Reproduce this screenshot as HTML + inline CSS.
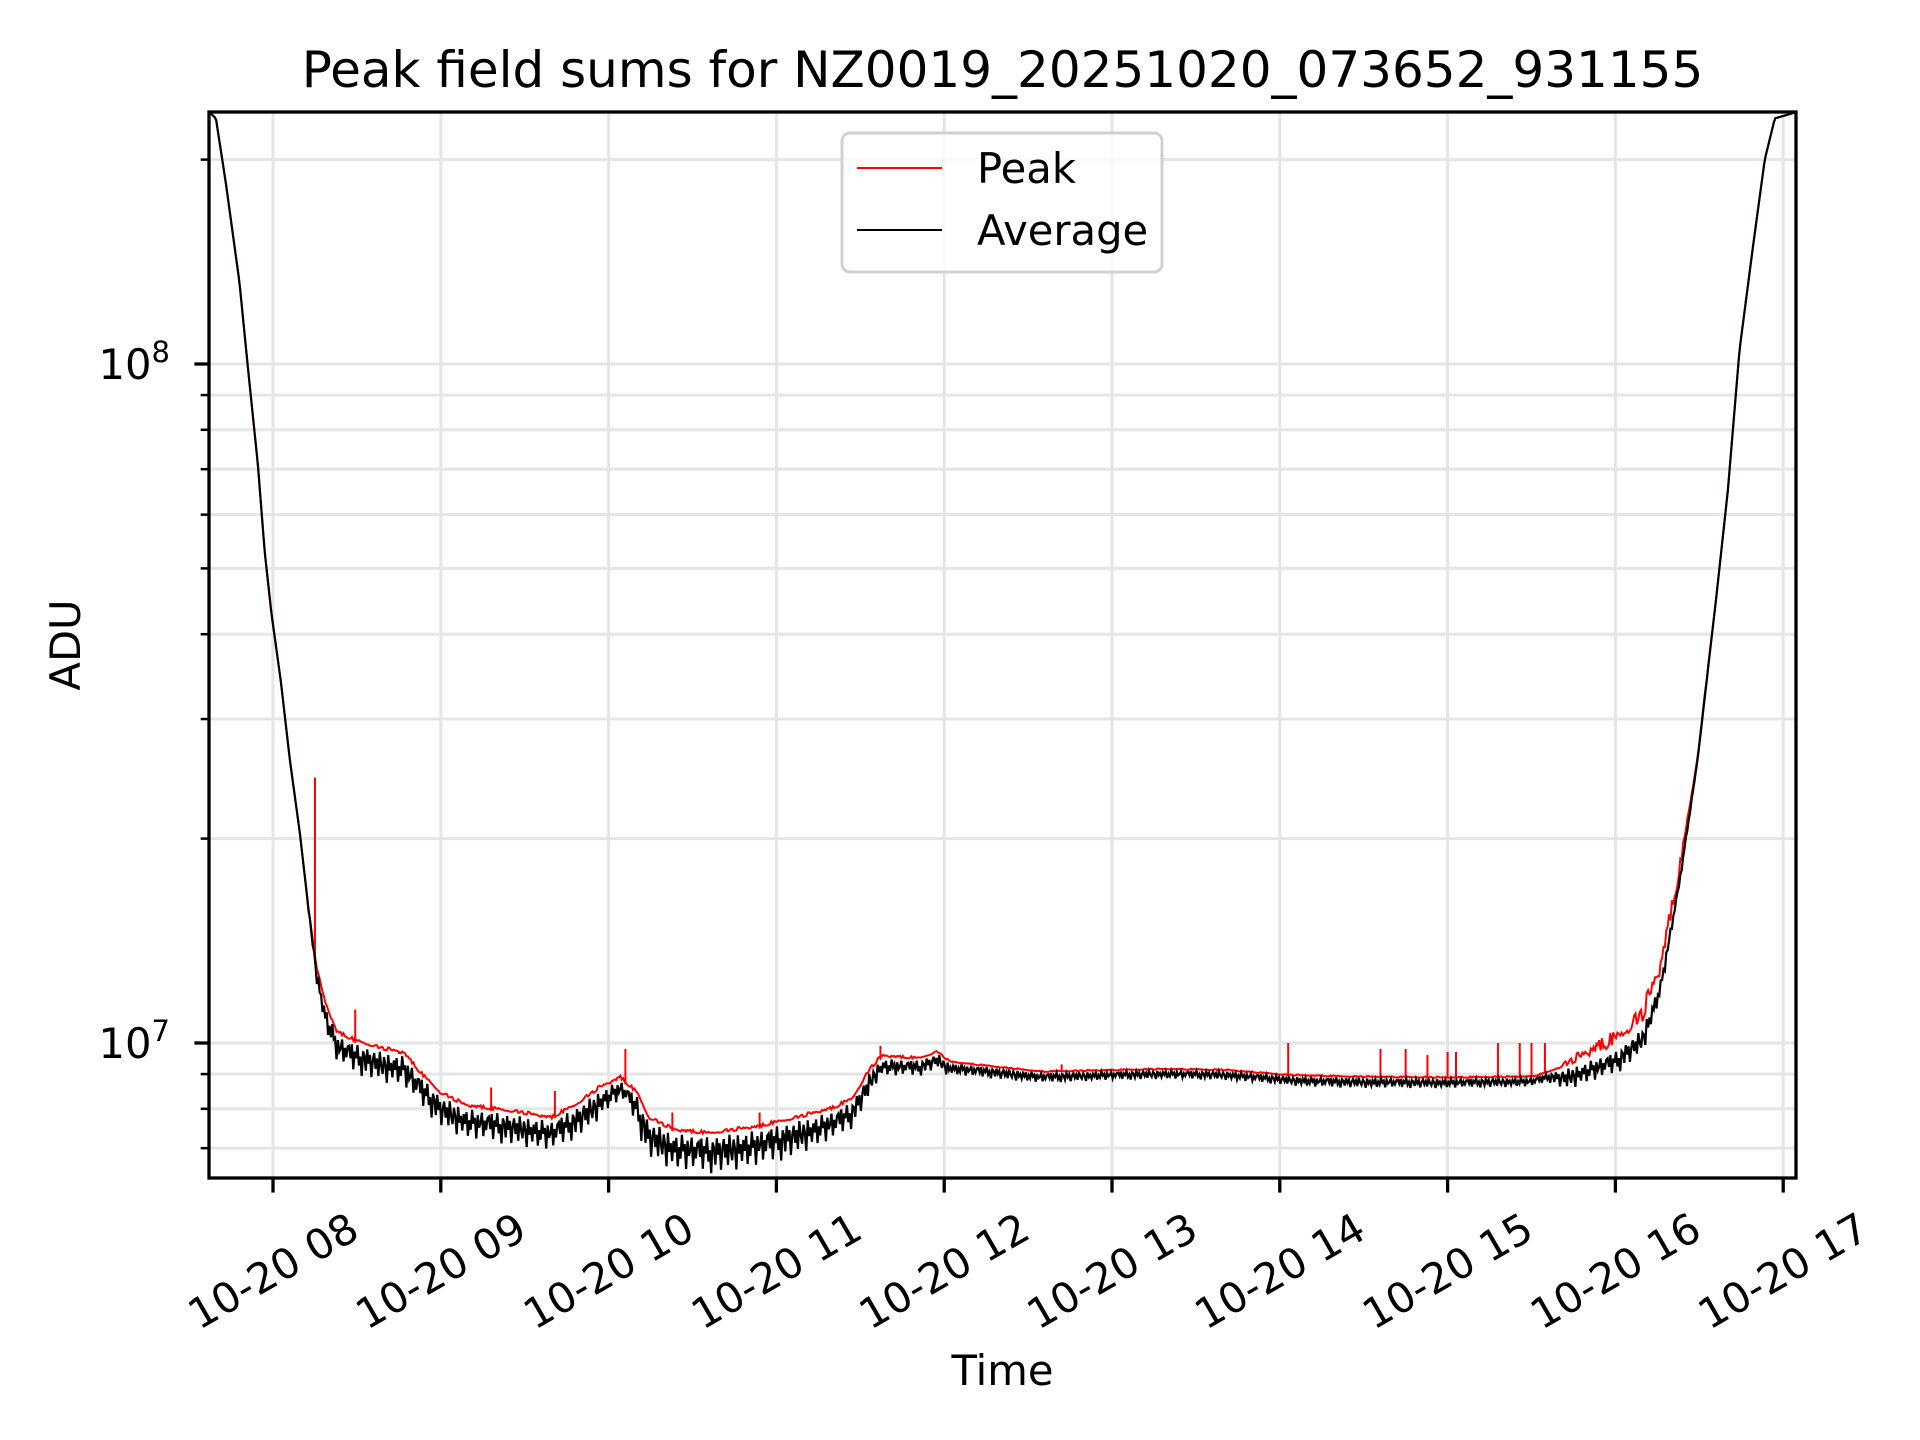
<!DOCTYPE html>
<html><head><meta charset="utf-8"><style>
html,body{margin:0;padding:0;background:#fff}
svg{display:block;font-family:"DejaVu Sans","Liberation Sans",sans-serif}
</style></head><body>
<svg id="chart" width="1920" height="1440" viewBox="0 0 1920 1440">
<text x="1002.5" y="87" font-size="50" text-anchor="middle">Peak field sums for NZ0019_20251020_073652_931155</text>
<text x="1002.5" y="1385" font-size="41.7" text-anchor="middle">Time</text>
<text transform="translate(80,645) rotate(-90)" font-size="41.7" text-anchor="middle">ADU</text>
<g id="grid"></g><g id="series"></g><g id="axes"></g>
<g id="legend">
<rect x="842" y="133" width="320" height="139" rx="8" fill="#fff" fill-opacity="0.8" stroke="#d0d0d0" stroke-width="3"/>
<line x1="857" y1="168" x2="942" y2="168" stroke="#ff0000" stroke-width="2"/>
<text x="977" y="183" font-size="41.7">Peak</text>
<line x1="857" y1="230" x2="942" y2="230" stroke="#000" stroke-width="2"/>
<text x="977" y="245" font-size="41.7">Average</text>
</g>
</svg>
<script>
// trend knots: hours and values (ADU)
const trendHours = [7.62,7.66,7.72,7.80,7.85,7.91,7.95,7.99,8.05,8.10,8.16,8.21,8.26,8.31,8.38,8.49,8.64,8.78,8.89,9.0,9.15,9.44,9.66,9.8,9.95,10.07,10.17,10.24,10.39,10.6,10.9,11.12,11.34,11.45,11.56,11.63,11.85,11.96,12.03,12.58,13.31,13.68,14.04,14.41,14.99,15.5,15.72,16.01,16.16,16.27,16.38,16.49,16.6,16.67,16.74,16.82,16.89,16.95,17.08];
const trendValues = [2.35e8,2.3e8,1.84e8,1.32e8,9.9e7,7.1e7,5.3e7,4.3e7,3.36e7,2.62e7,2.04e7,1.59e7,1.29e7,1.14e7,1.03e7,1.0e7,9.75e6,9.6e6,8.9e6,8.37e6,8.03e6,7.86e6,7.7e6,8.03e6,8.54e6,8.83e6,8.37e6,7.7e6,7.39e6,7.3e6,7.48e6,7.7e6,7.96e6,8.2e6,9.1e6,9.5e6,9.44e6,9.67e6,9.36e6,9.05e6,9.13e6,9.1e6,8.95e6,8.9e6,8.87e6,8.9e6,9.2e6,9.75e6,1.05e7,1.24e7,1.73e7,2.62e7,4.5e7,6.5e7,1.05e8,1.49e8,2.0e8,2.3e8,2.35e8];
// noise amplitude envelope of the Average dips
const dipHours = [7.6,8.2,8.3,8.5,9.0,9.9,10.1,10.2,11.0,11.55,11.6,12.0,12.05,13.0,14.0,14.2,15.6,15.7,16.2,16.35,16.5,17.1];
const dipAmps = [0,0,0.08,0.1,0.1,0.1,0.06,0.12,0.12,0.08,0.06,0.05,0.04,0.03,0.03,0.035,0.03,0.07,0.08,0.03,0,0];
// peak excess over trend
const peakHours = [7.6,8.25,8.3,11.6,12.1,15.6,15.9,16.3,16.45,16.6,17.1];
const peakExcess = [0,0,0.012,0.012,0.004,0.004,0.05,0.07,0.02,0,0];
// hand-read dip texture (fraction of envelope)
const dipTexture = [0.2,0.6,0.1,0.9,0.3,0.5,0.05,0.7,0.4,1.0,0.2,0.35,0.8,0.1,0.55,0.25,0.95,0.4,0.15,0.65,0.3,0.85,0.05,0.5,0.75,0.2,0.45,1.0,0.1,0.6,0.35,0.8,0.25,0.55,0.15,0.9,0.4,0.7,0.05,0.5,0.3,0.95,0.2,0.6,0.45,0.1,0.85,0.35,0.65,0.25];
// peak spikes
const spikeHours = [8.25,8.49,8.75,9.3,9.68,10.1,10.38,10.9,11.62,12.7,14.05,14.6,14.75,14.88,15.0,15.05,15.3,15.43,15.5,15.58];
const spikeValues = [2.46e7,1.12e7,9.7e6,8.6e6,8.5e6,9.8e6,7.9e6,7.9e6,9.9e6,9.3e6,1.0e7,9.8e6,9.8e6,9.6e6,9.7e6,9.7e6,1.0e7,1.0e7,1.0e7,1.0e7];
const xTickHours = [8,9,10,11,12,13,14,15,16,17];
const xTickLabels = ["10-20 08","10-20 09","10-20 10","10-20 11","10-20 12","10-20 13","10-20 14","10-20 15","10-20 16","10-20 17"];
const yMajor = [1e7,1e8];
const yMajorLabels = ["7","8"];
const yMinor = [7e6,8e6,9e6,2e7,3e7,4e7,5e7,6e7,7e7,8e7,9e7,2e8];

const L=209,R=1796,T=112,B=1178;
const X=h=>273+(h-8)*167.8;
const Y=v=>1043-(Math.log10(v)-7)*679;
const NS="http://www.w3.org/2000/svg";
function mk(tag,attrs,parent){const e=document.createElementNS(NS,tag);for(const k in attrs)e.setAttribute(k,attrs[k]);parent.appendChild(e);return e;}
function interp(hs,vs,h,log){if(h<=hs[0])return vs[0];for(let i=1;i<hs.length;i++){if(h<=hs[i]){const f=(h-hs[i-1])/(hs[i]-hs[i-1]);if(log)return Math.pow(10,Math.log10(vs[i-1])+f*(Math.log10(vs[i])-Math.log10(vs[i-1])));return vs[i-1]+f*(vs[i]-vs[i-1]);}}return vs[vs.length-1];}

const grid=document.getElementById('grid');
xTickHours.forEach(h=>{const l=mk('line',{x1:X(h),x2:X(h),y1:T,y2:B,stroke:'#e5e5e5','stroke-width':3},grid);

});
yMajor.concat(yMinor).forEach(v=>{const l=mk('line',{x1:L,x2:R,y1:Y(v),y2:Y(v),stroke:'#e5e5e5','stroke-width':3},grid);

});

const series=document.getElementById('series');
const clip=mk('clipPath',{id:'clp'},mk('defs',{},series));
mk('rect',{x:L,y:T,width:R-L,height:B-T},clip);
const hs=[];for(let h=7.62;h<=17.077;h+=1/120)hs.push(h);
let pk='',av='';
const n=dipTexture.length;
hs.forEach((h,i)=>{const t=interp(trendHours,trendValues,h,true);
 const d=interp(dipHours,dipAmps,h,false)*dipTexture[i%n];
 const p=interp(peakHours,peakExcess,h,false)*(0.3+dipTexture[(i*7+13)%n]);
 pk+=(i?'L':'M')+X(h).toFixed(1)+' '+Y(t*(1+p)).toFixed(1);
 av+=(i?'L':'M')+X(h).toFixed(1)+' '+Y(t*(1-d)).toFixed(1);});
const peakPath=mk('path',{d:pk,fill:'none',stroke:'#ff0000','stroke-width':2,'clip-path':'url(#clp)'},series);


spikeHours.forEach((h,i)=>{const t=interp(trendHours,trendValues,h,true);
 const s=mk('line',{x1:X(h),x2:X(h),y1:Y(t),y2:Y(spikeValues[i]),stroke:'#ff0000','stroke-width':2},series);
 
 });
const avgPath=mk('path',{d:av,fill:'none',stroke:'#000','stroke-width':2.2,'clip-path':'url(#clp)'},series);



const axes=document.getElementById('axes');
const frame=mk('rect',{x:L,y:T,width:R-L,height:B-T,fill:'none',stroke:'#000','stroke-width':3.3},axes);


xTickHours.forEach((h,i)=>{const x=X(h);
 const t=mk('line',{x1:x,x2:x,y1:B,y2:B+14.6,stroke:'#000','stroke-width':3.3},axes);
 
 
 const tx=mk('text',{x:0,y:0,'font-size':41.7,'text-anchor':'middle','dominant-baseline':'central',transform:`translate(${x},1271) rotate(-30)`},axes);
 tx.textContent=xTickLabels[i];
 
 });
yMajor.forEach((v,i)=>{const y=Y(v);
 const t=mk('line',{x1:L-14.6,x2:L,y1:y,y2:y,stroke:'#000','stroke-width':3.3},axes);
 
 
 const tx=mk('text',{x:170,y:y+15,'font-size':41.7,'text-anchor':'end'},axes);
 
 
 tx.appendChild(document.createTextNode('10'));
 const sp=mk('tspan',{dy:-17,'font-size':29},tx);sp.textContent=yMajorLabels[i];});
yMinor.forEach(v=>{const y=Y(v);
 const t=mk('line',{x1:L-8.3,x2:L,y1:y,y2:y,stroke:'#000','stroke-width':2.5},axes);
 
 });
</script>
</body></html>
